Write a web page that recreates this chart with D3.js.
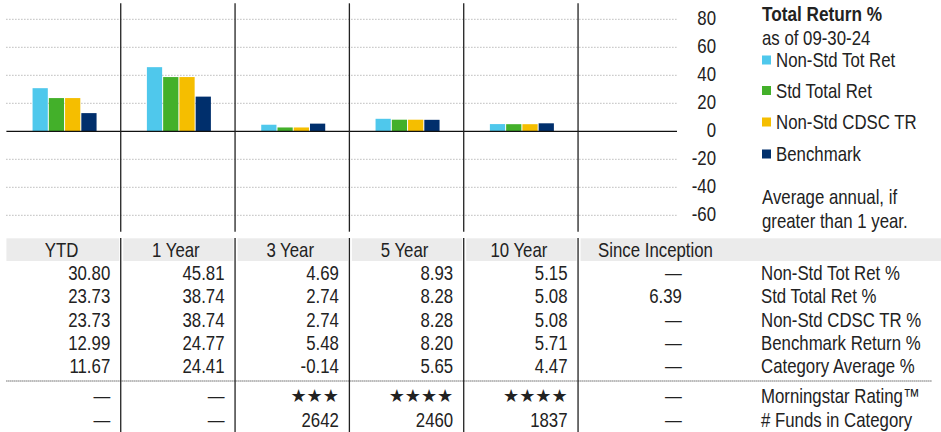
<!DOCTYPE html>
<html>
<head>
<meta charset="utf-8">
<script src="https://cdn.jsdelivr.net/npm/d3@7"></script>
<style>
  body { margin: 0; background: #fff; }
  svg text { font-family: "Liberation Sans", Arial, sans-serif; fill: #222; }
</style>
</head>
<body>
<div id="chart"></div>
<script>
// periods and series
var periods = ['YTD', '1 Year', '3 Year', '5 Year', '10 Year', 'Since Inception']
var chartPeriods = periods.slice(0, 5)
var seriesNames = ['Non-Std Tot Ret', 'Std Total Ret', 'Non-Std CDSC TR', 'Benchmark']
var seriesColors = ['#4FC8EC', '#43B02A', '#F5BE00', '#002F6C']

var nonStdTotRet = [30.80, 45.81, 4.69, 8.93, 5.15, null]
var stdTotalRet = [23.73, 38.74, 2.74, 8.28, 5.08, 6.39]
var nonStdCdscTR = [23.73, 38.74, 2.74, 8.28, 5.08, null]
var benchmarkRet = [12.99, 24.77, 5.48, 8.20, 5.71, null]
var categoryAvg = [11.67, 24.41, -0.14, 5.65, 4.47, null]
var ratingStars = [null, null, 3, 4, 4, null]
var fundsInCategory = [null, null, 2642, 2460, 1837, null]

var yTicks = [80, 60, 40, 20, 0, -20, -40, -60]
var rowLabels = ['Non-Std Tot Ret %', 'Std Total Ret %', 'Non-Std CDSC TR %', 'Benchmark Return %', 'Category Average %']

var width = 941,
    height = 432,
    left = 6.4,
    colW = 114.33,
    gridRight = 677,
    fs = 20.5,
    narrow = 0.82   // squeeze Liberation Sans to a narrow face

var svg = d3.select('#chart').append('svg')
    .attr('width', width)
    .attr('height', height)

var x = d3.scaleBand()
    .domain(periods)
    .range([left, left + colW * periods.length])

var y = d3.scaleLinear()
    .domain([-60, 80])
    .range([215.3, 19.3])

var xs = d3.scaleBand()
    .domain(seriesNames)
    .range([-31, 33])
    .paddingInner(0.0625)

// gridlines
svg.append('g').selectAll('line')
    .data(yTicks.filter(function(d) { return d !== 0 }))
    .enter().append('line')
        .attr('x1', left).attr('x2', gridRight)
        .attr('y1', function(d) { return y(d) }).attr('y2', function(d) { return y(d) })
        .attr('stroke', '#999').attr('stroke-dasharray', '1,2')

// tick labels
svg.append('g').selectAll('text')
    .data(yTicks)
    .enter().append('text')
        .attr('x', 716)
        .attr('y', function(d) { return y(d) - 1.5 })
        .attr('dy', '0.35em')
        .attr('text-anchor', 'end')
        .style('font-size', fs + 'px')
        .text(function(d) { return d })

// bars
var seriesData = [nonStdTotRet, stdTotalRet, nonStdCdscTR, benchmarkRet]
var groups = svg.append('g').selectAll('g')
    .data(chartPeriods)
    .enter().append('g')
        .attr('transform', function(d) { return 'translate(' + (x(d) + x.bandwidth() / 2) + ',0)' })

groups.selectAll('rect')
    .data(function(p) {
        var i = periods.indexOf(p)
        return seriesNames.map(function(s, k) { return { s: s, k: k, v: seriesData[k][i] } })
    })
    .enter().append('rect')
        .attr('x', function(d) { return xs(d.s) })
        .attr('width', xs.bandwidth())
        .attr('y', function(d) { return y(Math.max(0, d.v)) })
        .attr('height', function(d) { return Math.abs(y(d.v) - y(0)) })
        .attr('fill', function(d) { return seriesColors[d.k] })

// zero line
svg.append('line')
    .attr('x1', left).attr('x2', gridRight)
    .attr('y1', y(0)).attr('y2', y(0))
    .attr('stroke', '#111').attr('stroke-width', 1.2)

// column separators (chart and table)
var seps = periods.slice(1)
svg.append('g').selectAll('line')
    .data(seps)
    .enter().append('line')
        .attr('x1', function(d) { return x(d) }).attr('x2', function(d) { return x(d) })
        .attr('y1', 3.3).attr('y2', 231.7)
        .attr('stroke', '#222').attr('stroke-width', 1.3)

// legend
svg.append('text').attr('x', 762).attr('y', 13.5).attr('dy', '0.35em')
    .style('font-size', '21px').style('font-weight', 'bold')
    .text('Total Return %')
svg.append('text').attr('x', 762).attr('y', 37.5).attr('dy', '0.35em')
    .style('font-size', fs + 'px')
    .text('as of 09-30-24')
var legendY = [60, 90.5, 122, 154]
var leg = svg.append('g').selectAll('g')
    .data(seriesNames)
    .enter().append('g')
        .attr('transform', function(d, i) { return 'translate(762,' + legendY[i] + ')' })
leg.append('rect').attr('x', 0).attr('y', -4.5).attr('width', 9).attr('height', 9)
    .attr('fill', function(d, i) { return seriesColors[i] })
leg.append('text').attr('x', 14).attr('dy', '0.35em')
    .style('font-size', fs + 'px')
    .text(function(d) { return d })
svg.append('text').attr('x', 762).attr('y', 197).attr('dy', '0.35em')
    .style('font-size', fs + 'px').text('Average annual, if')
svg.append('text').attr('x', 762).attr('y', 220.5).attr('dy', '0.35em')
    .style('font-size', fs + 'px').text('greater than 1 year.')

// table header
var headTop = 238.3, headH = 22.7
svg.append('g').selectAll('rect')
    .data(periods)
    .enter().append('rect')
        .attr('x', function(d, i) { return x(d) + (i === 0 ? 0 : 2.5) })
        .attr('y', headTop)
        .attr('width', function(d, i) {
            var end = i === periods.length - 1 ? width : x(d) + x.bandwidth() - 1.5
            return end - (x(d) + (i === 0 ? 0 : 2.5))
        })
        .attr('height', headH)
        .attr('fill', '#EBEBEB')

svg.append('g').selectAll('text')
    .data(periods)
    .enter().append('text')
        .attr('x', function(d, i) { return i === periods.length - 1 ? x(d) + 20 : x(d) + x.bandwidth() / 2 - 2 })
        .attr('y', 249.5)
        .attr('dy', '0.35em')
        .attr('text-anchor', function(d, i) { return i === periods.length - 1 ? 'start' : 'middle' })
        .style('font-size', fs + 'px')
        .text(function(d) { return d })

svg.append('g').selectAll('line')
    .data(seps)
    .enter().append('line')
        .attr('x1', function(d) { return x(d) }).attr('x2', function(d) { return x(d) })
        .attr('y1', 238).attr('y2', height)
        .attr('stroke', '#222').attr('stroke-width', 1.3)

// table rows
var rowY = [273, 296.3, 319.6, 342.9, 366.2]
var rows = [nonStdTotRet, stdTotalRet, nonStdCdscTR, benchmarkRet, categoryAvg]
var dash = '\u2014'
rows.forEach(function(vals, r) {
    svg.append('g').selectAll('text')
        .data(periods)
        .enter().append('text')
            .attr('x', function(d) { return x(d) + x.bandwidth() - 10.5 })
            .attr('y', rowY[r])
            .attr('dy', '0.35em')
            .attr('text-anchor', 'end')
            .style('font-size', fs + 'px')
            .text(function(d, i) { return vals[i] == null ? dash : vals[i].toFixed(2) })
    svg.append('text').attr('x', 761).attr('y', rowY[r]).attr('dy', '0.35em')
        .style('font-size', fs + 'px').text(rowLabels[r])
})

svg.append('line')
    .attr('x1', left).attr('x2', 932)
    .attr('y1', 381).attr('y2', 381)
    .attr('stroke', '#222').attr('stroke-dasharray', '1,1')

svg.append('g').selectAll('text')
    .data(periods)
    .enter().append('text')
        .attr('class', function(d, i) { return ratingStars[i] ? 'stars' : null })
        .attr('x', function(d) { return x(d) + x.bandwidth() - 10.5 })
        .attr('y', 396)
        .attr('dy', '0.35em')
        .attr('text-anchor', 'end')
        .style('font-size', function(d, i) { return ratingStars[i] ? '18px' : fs + 'px' })
        .style('font-family', function(d, i) { return ratingStars[i] ? 'DejaVu Sans' : null })
        .text(function(d, i) { return ratingStars[i] ? d3.range(ratingStars[i]).map(function() { return '\u2605' }).join('') : dash })
svg.append('text').attr('x', 761).attr('y', 396).attr('dy', '0.35em')
    .style('font-size', fs + 'px').text('Morningstar Rating\u2122')

svg.append('g').selectAll('text')
    .data(periods)
    .enter().append('text')
        .attr('x', function(d) { return x(d) + x.bandwidth() - 10.5 })
        .attr('y', 420)
        .attr('dy', '0.35em')
        .attr('text-anchor', 'end')
        .style('font-size', fs + 'px')
        .text(function(d, i) { return fundsInCategory[i] == null ? dash : fundsInCategory[i] })
svg.append('text').attr('x', 761).attr('y', 420).attr('dy', '0.35em')
    .style('font-size', fs + 'px').text('# Funds in Category')

// narrow every text horizontally, keeping its anchor point in place
svg.selectAll('text:not(.stars)').each(function() {
    var t = d3.select(this)
    t.attr('x', +t.attr('x') / narrow)
        .attr('transform', 'scale(' + narrow + ',1)')
})
</script>
</body>
</html>
